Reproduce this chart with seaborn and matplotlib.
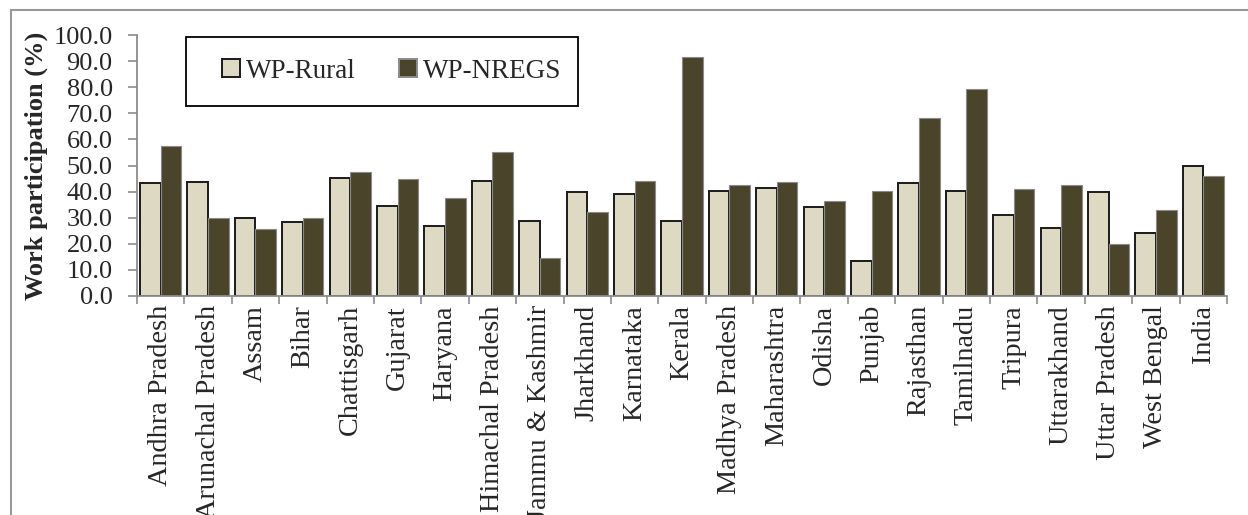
import matplotlib
matplotlib.use("Agg")
import matplotlib.pyplot as plt
from matplotlib.patches import Rectangle
from matplotlib.ticker import FormatStrFormatter, FixedLocator
import seaborn as sns
import pandas as pd

states = ["Andhra Pradesh", "Arunachal Pradesh", "Assam", "Bihar", "Chattisgarh",
          "Gujarat", "Haryana", "Himachal Pradesh", "Jammu & Kashmir", "Jharkhand",
          "Karnataka", "Kerala", "Madhya Pradesh", "Maharashtra", "Odisha", "Punjab",
          "Rajasthan", "Tamilnadu", "Tripura", "Uttarakhand", "Uttar Pradesh",
          "West Bengal", "India"]
wp_rural = [43.2, 43.7, 29.9, 28.4, 45.1, 34.5, 26.7, 44.1, 28.9, 39.7, 39.0, 28.9,
            40.4, 41.5, 34.1, 13.4, 43.4, 40.4, 31.0, 26.1, 40.0, 24.3, 49.7]
wp_nregs = [57.6, 30.0, 25.7, 30.0, 47.4, 44.7, 37.4, 55.2, 14.7, 32.3, 44.1, 91.4,
            42.7, 43.7, 36.3, 40.4, 68.1, 79.4, 41.1, 42.4, 20.0, 32.8, 46.0]
series_names = ["WP-Rural", "WP-NREGS"]
y_ticks = [0, 10, 20, 30, 40, 50, 60, 70, 80, 90, 100]

df = pd.DataFrame({
    "State": states * 2,
    "Series": [series_names[0]] * len(states) + [series_names[1]] * len(states),
    "Value": wp_rural + wp_nregs,
})

sns.set_style("white")
plt.rcParams["font.family"] = ["Liberation Serif", "DejaVu Serif"]

W, H = 1248, 515
fig = plt.figure(figsize=(W / 100, H / 100), dpi=100)
ax = fig.add_axes([137 / W, 1 - 296 / H, (1227 - 137) / W, (296 - 35) / H])

palette = {"WP-Rural": "#DDD9C3", "WP-NREGS": "#4A452A"}
sns.barplot(data=df, x="State", y="Value", hue="Series", order=states,
            hue_order=series_names, palette=palette, width=0.87, gap=0,
            saturation=1, ax=ax, legend=False)

edge_specs = [("#1a1a1a", 1.4), ("#8a8a8a", 0.8)]
for cont, (ec, lw) in zip(ax.containers, edge_specs):
    for bar in cont:
        bar.set_edgecolor(ec)
        bar.set_linewidth(lw)

ax.set_xlim(-0.5, len(states) - 0.5)
ax.set_ylim(0, 100)
ax.set_yticks(y_ticks)
ax.yaxis.set_major_formatter(FormatStrFormatter("%.1f"))
ax.set_xlabel("")
ax.set_ylabel("Work participation (%)", fontsize=19, fontweight="bold", labelpad=4)

for s in ["top", "right"]:
    ax.spines[s].set_visible(False)
for s in ["left", "bottom"]:
    ax.spines[s].set_color("#8c8c8c")
    ax.spines[s].set_linewidth(1.3)

ax.tick_params(axis="y", direction="out", length=6.5, width=1.2, color="#8c8c8c",
               labelsize=19, pad=11, left=True)
ax.tick_params(axis="x", which="major", length=0, labelsize=20.3, pad=6.5, bottom=True)
ax.set_xticks(range(len(states)))
ax.set_xticklabels(states, rotation=90, va="top", ha="center")
ax.xaxis.set_minor_locator(FixedLocator([i - 0.5 for i in range(len(states) + 1)]))
ax.tick_params(axis="x", which="minor", direction="out", length=6, width=1.2,
               color="#8c8c8c", bottom=True)

# legend
handles = [Rectangle((0, 0), 1, 1, facecolor=palette[n],
                     edgecolor=edge_specs[i][0], linewidth=1.4)
           for i, n in enumerate(series_names)]
leg = fig.legend(handles, series_names, loc="center left",
                 bbox_to_anchor=(222 / W, 1 - 71 / H), bbox_transform=fig.transFigure,
                 ncol=2, frameon=False, fontsize=19.5, handlelength=0.68,
                 handleheight=0.62, handletextpad=0.2, columnspacing=1.6,
                 borderpad=0, borderaxespad=0)
fig.patches.append(Rectangle((186 / W, 1 - 106 / H), (578 - 186) / W, 69 / H,
                             fill=False, edgecolor="black", linewidth=1.3,
                             transform=fig.transFigure, figure=fig))
# outer chart frame
fig.patches.append(Rectangle((11 / W, -0.1), 1.2, 1.1 - 10 / H,
                             fill=False, edgecolor="#999999", linewidth=1.5,
                             transform=fig.transFigure, figure=fig))

fig.savefig("out.png", dpi=100)
